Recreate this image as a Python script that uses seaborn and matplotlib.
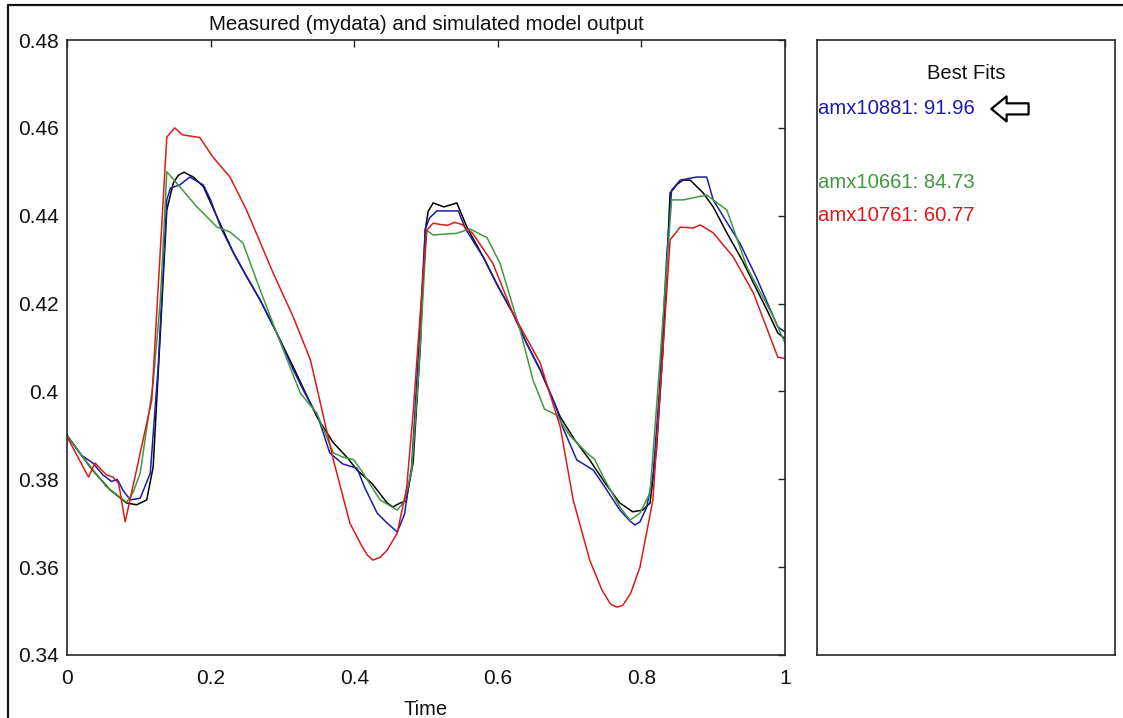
import numpy as np
import pandas as pd
import matplotlib
matplotlib.use("Agg")
import matplotlib.pyplot as plt
import seaborn as sns
from matplotlib.lines import Line2D
from matplotlib.ticker import FuncFormatter

# ---------------- data ----------------
t_measured = [0, 0.02, 0.036, 0.06, 0.083, 0.097, 0.111, 0.12, 0.13, 0.139, 0.148, 0.155,
              0.163, 0.176, 0.19, 0.209, 0.232, 0.25, 0.269, 0.29, 0.315, 0.348, 0.371, 0.39,
              0.404, 0.425, 0.446, 0.454, 0.464, 0.472, 0.482, 0.492, 0.499, 0.503, 0.51,
              0.525, 0.543, 0.557, 0.58, 0.6, 0.621, 0.64, 0.659, 0.687, 0.707, 0.728, 0.75,
              0.77, 0.788, 0.802, 0.812, 0.821, 0.83, 0.84, 0.85, 0.858, 0.868, 0.886, 0.9,
              0.919, 0.94, 0.956, 0.975, 0.99, 1.0]
v_measured = [0.390, 0.3855, 0.382, 0.3776, 0.3746, 0.3742, 0.3753, 0.3828, 0.4133, 0.4413,
              0.4474, 0.4492, 0.4499, 0.4488, 0.4466, 0.4397, 0.4315, 0.4262, 0.4208, 0.4140,
              0.4056, 0.3942, 0.3883, 0.3850, 0.3821, 0.3790, 0.3746, 0.3737, 0.3746, 0.3750,
              0.3837, 0.410, 0.4367, 0.441, 0.4429, 0.4420, 0.4429, 0.4374, 0.4305, 0.4240,
              0.4178, 0.4110, 0.4049, 0.3942, 0.3890, 0.3844, 0.3790, 0.3746, 0.3726, 0.373,
              0.3746, 0.3867, 0.4094, 0.4452, 0.4472, 0.4481, 0.4481, 0.4452, 0.4420, 0.4361,
              0.4300, 0.4247, 0.4185, 0.4133, 0.4120]

t_amx10881 = [0, 0.02, 0.036, 0.05, 0.062, 0.07, 0.078, 0.088, 0.102, 0.116, 0.127, 0.139,
              0.144, 0.157, 0.171, 0.19, 0.2, 0.215, 0.232, 0.25, 0.27, 0.29, 0.315, 0.33,
              0.35, 0.366, 0.384, 0.404, 0.415, 0.432, 0.446, 0.46, 0.47, 0.48, 0.49, 0.499,
              0.505, 0.515, 0.53, 0.545, 0.555, 0.58, 0.6, 0.621, 0.64, 0.659, 0.68, 0.69,
              0.71, 0.733, 0.75, 0.77, 0.784, 0.791, 0.798, 0.807, 0.816, 0.825, 0.835,
              0.842, 0.854, 0.877, 0.891, 0.9, 0.919, 0.937, 0.96, 0.99, 1.0]
v_amx10881 = [0.390, 0.3855, 0.3837, 0.381, 0.3795, 0.3800, 0.3775, 0.3753, 0.3757, 0.3814,
              0.4056, 0.4436, 0.4463, 0.447, 0.4488, 0.447, 0.4436, 0.437, 0.4315, 0.4262,
              0.4205, 0.4140, 0.4050, 0.4000, 0.3940, 0.386, 0.3835, 0.3825, 0.378, 0.3723,
              0.3700, 0.368, 0.372, 0.383, 0.410, 0.437, 0.4395, 0.4411, 0.4411, 0.4411,
              0.437, 0.4305, 0.4240, 0.4178, 0.4110, 0.4049, 0.3970, 0.3920, 0.3844, 0.3821,
              0.3780, 0.373, 0.3705, 0.3696, 0.3703, 0.3735, 0.3805, 0.40, 0.43, 0.4458,
              0.4481, 0.4488, 0.4488, 0.4436, 0.4385, 0.4338, 0.4260, 0.4147, 0.4135]

t_amx10661 = [0, 0.02, 0.055, 0.083, 0.092, 0.102, 0.12, 0.13, 0.139, 0.157, 0.181, 0.209,
              0.227, 0.245, 0.269, 0.292, 0.325, 0.348, 0.371, 0.385, 0.399, 0.41, 0.436,
              0.46, 0.47, 0.48, 0.49, 0.501, 0.51, 0.525, 0.543, 0.561, 0.585, 0.603, 0.631,
              0.649, 0.665, 0.682, 0.7, 0.724, 0.735, 0.747, 0.77, 0.784, 0.798, 0.812, 0.825,
              0.842, 0.858, 0.891, 0.919, 0.947, 0.984, 1.0]
v_amx10661 = [0.390, 0.3855, 0.3783, 0.3748, 0.3770, 0.3814, 0.4019, 0.4208, 0.450, 0.4466,
              0.442, 0.4374, 0.4363, 0.4338, 0.4231, 0.4133, 0.3996, 0.3950, 0.386, 0.3850,
              0.3845, 0.3820, 0.3753, 0.373, 0.375, 0.382, 0.405, 0.4367, 0.4356, 0.4358,
              0.4360, 0.4370, 0.4350, 0.4292, 0.414, 0.4026, 0.3960, 0.3946, 0.3900, 0.3860,
              0.3845, 0.3805, 0.3737, 0.3707, 0.3723, 0.3769, 0.405, 0.4436, 0.4436, 0.4447,
              0.4413, 0.4283, 0.4169, 0.4110]

t_amx10761 = [0, 0.03, 0.039, 0.055, 0.064, 0.072, 0.081, 0.09, 0.118, 0.139, 0.15, 0.161,
              0.185, 0.203, 0.227, 0.25, 0.287, 0.315, 0.339, 0.352, 0.371, 0.394, 0.41,
              0.418, 0.426, 0.436, 0.446, 0.46, 0.473, 0.482, 0.492, 0.501, 0.51, 0.52, 0.53,
              0.54, 0.55, 0.565, 0.593, 0.621, 0.659, 0.687, 0.705, 0.728, 0.745, 0.757,
              0.766, 0.774, 0.785, 0.798, 0.816, 0.83, 0.84, 0.854, 0.872, 0.882, 0.9, 0.928,
              0.956, 0.99, 1.0]
v_amx10761 = [0.3897, 0.3805, 0.3837, 0.381, 0.3805, 0.3790, 0.3703, 0.377, 0.398, 0.4579,
              0.460, 0.4584, 0.4578, 0.4534, 0.4488, 0.4413, 0.427, 0.417, 0.4072, 0.398,
              0.3844, 0.370, 0.3650, 0.3628, 0.3616, 0.3622, 0.3639, 0.3678, 0.378, 0.395,
              0.4178, 0.4367, 0.4383, 0.4380, 0.4378, 0.4385, 0.4380, 0.436, 0.4292, 0.4178,
              0.4065, 0.3919, 0.3753, 0.3616, 0.3548, 0.3516, 0.3509, 0.3513, 0.3540, 0.360,
              0.3753, 0.4094, 0.4345, 0.4374, 0.4372, 0.4379, 0.4361, 0.4306, 0.4224, 0.4078,
              0.4075]

series_names = ["measured", "amx10881", "amx10661", "amx10761"]
series_colors = ["#000000", "#1c1ca8", "#3f9a3f", "#dd1a1a"]
fit_labels = ["amx10881: 91.96", "amx10661: 84.73", "amx10761: 60.77"]
x_ticks = [0, 0.2, 0.4, 0.6, 0.8, 1]
y_ticks = [0.34, 0.36, 0.38, 0.40, 0.42, 0.44, 0.46, 0.48]

frames = []
for name, tt, vv in zip(series_names,
                        [t_measured, t_amx10881, t_amx10661, t_amx10761],
                        [v_measured, v_amx10881, v_amx10661, v_amx10761]):
    frames.append(pd.DataFrame({"Time": tt, "value": vv, "series": name}))
df = pd.concat(frames, ignore_index=True)

# ---------------- style ----------------
sns.set_theme(style="white")
plt.rcParams["font.family"] = ["Liberation Sans", "DejaVu Sans"]

W, H = 1123, 718
fig = plt.figure(figsize=(W / 100, H / 100), dpi=100)

def rect(l, t, r, b):
    return [l / W, 1 - b / H, (r - l) / W, (b - t) / H]

ax = fig.add_axes(rect(67, 40, 785, 655))
sns.lineplot(data=df, x="Time", y="value", hue="series", hue_order=series_names,
             palette=series_colors, estimator=None, sort=False, legend=False,
             linewidth=1.1, ax=ax)

ax.set_xlim(0, 1)
ax.set_ylim(0.34, 0.48)
ax.set_xticks(x_ticks)
ax.set_yticks(y_ticks)
ax.xaxis.set_major_formatter(FuncFormatter(lambda v, p: "%g" % round(v, 4)))
ax.yaxis.set_major_formatter(FuncFormatter(lambda v, p: "%g" % round(v, 4)))
ax.tick_params(direction="in", length=5, width=1, colors="#222222",
               top=True, right=True, labelsize=15, pad=10, labelcolor="#111111")
ax.tick_params(axis="y", pad=6)
for s in ax.spines.values():
    s.set_visible(True)
    s.set_color("#262626")
    s.set_linewidth(1.2)
ax.set_xlabel("Time", fontsize=14.5, labelpad=9, color="#111111")
ax.set_ylabel("")
ax.set_title("Measured (mydata) and simulated model output", fontsize=14.8,
             pad=7, color="#111111")

# ---------------- right panel ----------------
ax2 = fig.add_axes(rect(817, 40, 1115, 655))
ax2.set_xticks([])
ax2.set_yticks([])
ax2.set_xlim(0, 1)
ax2.set_ylim(0, 1)
for s in ax2.spines.values():
    s.set_visible(True)
    s.set_color("#262626")
    s.set_linewidth(1.2)
ax2.text(0.5, 0.946, "Best Fits", ha="center", va="center", fontsize=14.5,
         color="#111111", transform=ax2.transAxes)
ypos = [0.888, 0.769, 0.715]
for lab, col, yy in zip(fit_labels, series_colors[1:], ypos):
    ax2.text(0.004, yy, lab, ha="left", va="center", fontsize=14.6, color=col,
             transform=ax2.transAxes)
ax2.annotate("", xy=(0.585, 0.888), xytext=(0.71, 0.888), xycoords="axes fraction",
             textcoords="axes fraction",
             arrowprops=dict(arrowstyle="simple,head_length=1.1,head_width=1.8,tail_width=0.8",
                             mutation_scale=10, fc="white", ec="black", lw=1.6,
                             shrinkA=0, shrinkB=0))

# figure frame (left and top edges)
fig.add_artist(Line2D([8 / W, 8 / W, 1.0], [0.0, 1 - 4.5 / H, 1 - 4.5 / H],
                      transform=fig.transFigure, color="#111111", lw=1.6))

fig.savefig("out.png", dpi=100)
